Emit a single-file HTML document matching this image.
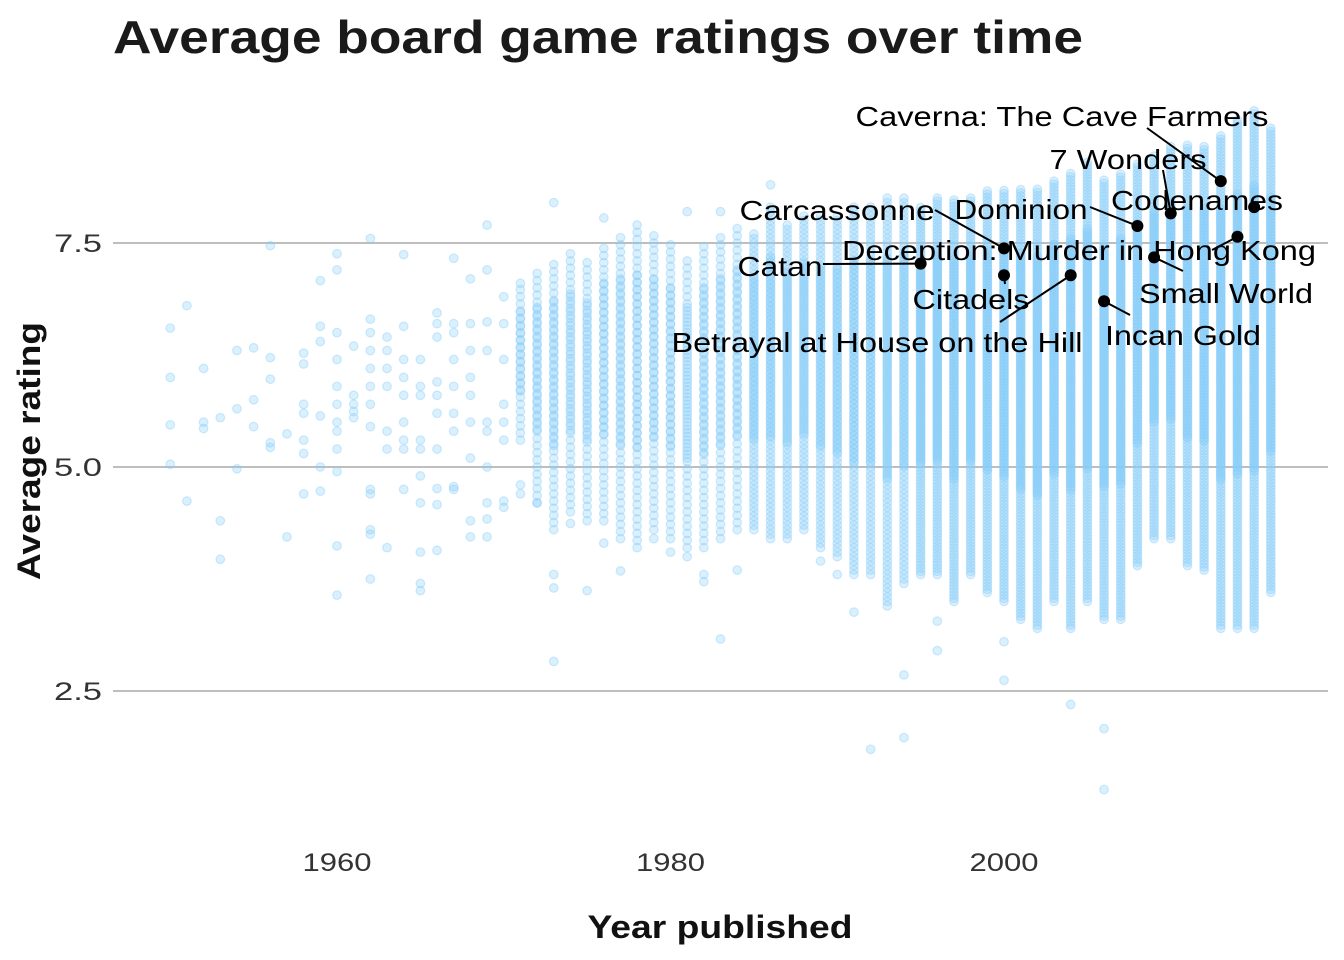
<!DOCTYPE html>
<html><head><meta charset="utf-8">
<style>
body{margin:0;background:#fff;}
svg{display:block;font-family:"Liberation Sans",Arial,sans-serif;}
</style></head>
<body>
<svg id="chart" width="1344" height="960">
<text id="title" x="113" y="53" font-size="46" font-weight="bold" fill="#1a1a1a">Average board game ratings over time</text>
<g id="grid"></g>
<g id="pts"></g>
<g id="hl"></g>
<text id="xt" x="720" y="938" text-anchor="middle" font-size="32" font-weight="bold" fill="#111">Year published</text>
<text id="yt" transform="translate(40,451) rotate(-90)" text-anchor="middle" font-size="32" font-weight="bold" fill="#111">Average rating</text>
</svg>
<script>
const sparseYears = [1950,1951,1952,1953,1954,1955,1956,1957,1958,1959,1960,1961,1962,1963,1964,1965,1966,1967,1968,1969,1970];
const sparseValues = [
 [6.55,6.0,5.47,5.03],[6.8,4.62],[6.1,5.5,5.43],[5.55,4.4,3.97],[6.3,5.65,4.98],[6.33,5.75,5.45],
 [7.47,6.22,5.98,5.27,5.22],[5.37,4.22],[6.27,6.15,5.7,5.6,5.3,5.15,4.7],[7.08,6.57,6.4,5.57,5.0,4.73],
 [7.38,7.2,6.5,6.2,5.9,5.7,5.5,5.4,5.2,4.95,4.12,3.57],[6.35,5.8,5.7,5.62,5.55],
 [7.55,6.65,6.5,6.3,6.1,5.9,5.7,5.45,4.75,4.7,4.3,4.25,3.75],[6.45,6.3,6.1,5.9,5.4,5.2,4.1],
 [7.37,6.57,6.2,6.0,5.8,5.5,5.3,5.2,4.75],[6.2,5.9,5.8,5.3,5.2,4.9,4.6,4.05,3.7,3.62],
 [6.72,6.6,6.45,5.95,5.8,5.6,5.2,4.76,4.58,4.07],[7.33,6.6,6.5,6.2,5.9,5.6,5.4,4.78,4.75],
 [7.1,6.6,6.3,6.0,5.8,5.5,5.1,4.4,4.22],[7.7,7.2,6.62,6.3,5.5,5.4,5.0,4.6,4.42,4.22],
 [6.9,6.6,6.2,5.7,5.5,5.3,4.62,4.55]
];
const denseYears = [1971,1972,1973,1974,1975,1976,1977,1978,1979,1980,1981,1982,1983,1984,1985,1986,1987,1988,1989,1990,1991,1992,1993,1994,1995,1996,1997,1998,1999,2000,2001,2002,2003,2004,2005,2006,2007,2008,2009,2010,2011,2012,2013,2014,2015,2016];
const bandLow  = [5.3,4.6,4.3,4.5,4.4,4.4,4.2,4.1,4.3,4.2,4.1,4.1,4.2,4.3,4.3,4.2,4.2,4.3,4.1,4.0,3.8,3.8,3.5,3.7,3.8,3.8,3.5,3.8,3.6,3.5,3.3,3.2,3.5,3.2,3.5,3.3,3.3,3.9,4.2,4.2,3.9,3.85,3.2,3.2,3.2,3.6];
const bandHigh = [7.0,7.2,7.3,7.4,7.3,7.5,7.6,7.7,7.6,7.5,7.3,7.5,7.6,7.7,7.6,7.9,7.7,7.8,7.8,7.8,7.9,7.9,8.0,8.0,7.9,8.0,8.0,8.0,8.1,8.1,8.1,8.1,8.2,8.3,8.4,8.2,8.3,8.4,8.5,8.6,8.6,8.6,8.7,8.9,9.0,8.8];
const outliers = [[4.8,4.7,7.05],[4.6],[7.95,3.8,3.65,2.83],[4.37],[3.62],[7.78,4.15],[3.84],[],[4.2],[4.05],[7.85,4.0],[3.8,3.72],[7.85,3.08],[3.85],[],[8.15],[],[],[3.95],[3.8],[3.38],[1.85],[3.45],[2.68,1.98],[],[3.28,2.95],[],[],[],[3.05,2.62],[],[],[],[2.35],[],[2.08,1.4],[],[],[],[],[],[],[],[],[],[]];
const hlNames = ["Caverna: The Cave Farmers","7 Wonders","Codenames","Carcassonne","Dominion","Deception: Murder in Hong Kong","Catan","Citadels","Small World","Betrayal at House on the Hill","Incan Gold"];
const hlYears = [2013,2010,2015,2000,2008,2014,1995,2000,2009,2004,2006];
const hlRatings = [8.19,7.83,7.90,7.44,7.69,7.57,7.27,7.14,7.34,7.14,6.85];
const yTicks = [2.5,5.0,7.5];
const xTicks = [1960,1980,2000];

const NS="http://www.w3.org/2000/svg";
const xs = y => 337 + (y-1960)*16.675;
const ys = r => 467 - (r-5)*89.6;
function mk(tag, attrs, parent){const e=document.createElementNS(NS,tag);for(const k in attrs)e.setAttribute(k,attrs[k]);parent.appendChild(e);return e;}
function fit(el,w){el.setAttribute('textLength',w);el.setAttribute('lengthAdjust','spacingAndGlyphs');}
const grid=document.getElementById('grid'), pts=document.getElementById('pts'), hl=document.getElementById('hl');
fit(document.getElementById('title'),970);
fit(document.getElementById('xt'),265);
fit(document.getElementById('yt'),258);

yTicks.forEach(t=>{
  const l=mk('line',{x1:113,x2:1328,y1:ys(t),y2:ys(t),stroke:'#bebebe','stroke-width':2},grid);
  
  
  const tx=mk('text',{x:102,y:ys(t)+9,'text-anchor':'end','font-size':25,fill:'#333'},grid);
  tx.textContent=t.toFixed(1);
  fit(tx,48);
  
  
});
xTicks.forEach(t=>{
  const tx=mk('text',{x:xs(t),y:871,'text-anchor':'middle','font-size':25,fill:'#333'},grid);
  tx.textContent=t;
  fit(tx,69);
  
  
});

function dot(yr,r){
  const c=mk('circle',{cx:xs(yr),cy:ys(r),r:4.3,fill:'rgba(135,206,250,0.3)',stroke:'rgba(135,206,250,0.4)','stroke-width':1.2},pts);
  
  
}
sparseYears.forEach((yr,i)=>sparseValues[i].forEach(v=>dot(yr,v)));
denseYears.forEach((yr,i)=>{
  const step = yr<1985?0.08:(yr<1995?0.05:0.035);
  for(let v=bandLow[i]; v<=bandHigh[i]+1e-9; v+=step) dot(yr,v);
  const lo=bandLow[i]+(bandHigh[i]-bandLow[i])*0.3, hi=bandHigh[i]-(bandHigh[i]-bandLow[i])*0.15;
  for(let v=lo; v<=hi; v+=step) dot(yr,v+step/2);
  outliers[i].forEach(v=>dot(yr,v));
});

const lab = [[1062,124,1147,128,413],[1128,167,1163,170,157],[1197,208,1250,205,172],[837,218,935,210,195],[1021,217,1090,207,133],[1079,258,1212,250,474],[780,274,823,264,85],[971,307,1005,284,117],[1226,301,1183,271,174],[877,350,1000,322,411],[1183,343,1130,315,156]];
hlNames.forEach((n,i)=>{
  const px=xs(hlYears[i]), py=ys(hlRatings[i]);
  const L=lab[i];
  const ln=mk('line',{x1:L[2],y1:L[3],x2:px,y2:py,stroke:'#000','stroke-width':2},hl);
  
  
});
hlNames.forEach((n,i)=>{
  const c=mk('circle',{cx:xs(hlYears[i]),cy:ys(hlRatings[i]),r:6,fill:'#000'},hl);
  
  
  const L=lab[i];
  const t=mk('text',{x:L[0],y:L[1]+2,'text-anchor':'middle','font-size':28,fill:'#000'},hl);
  t.textContent=n;
  fit(t,L[4]);
  
  
});
</script>
</body></html>
